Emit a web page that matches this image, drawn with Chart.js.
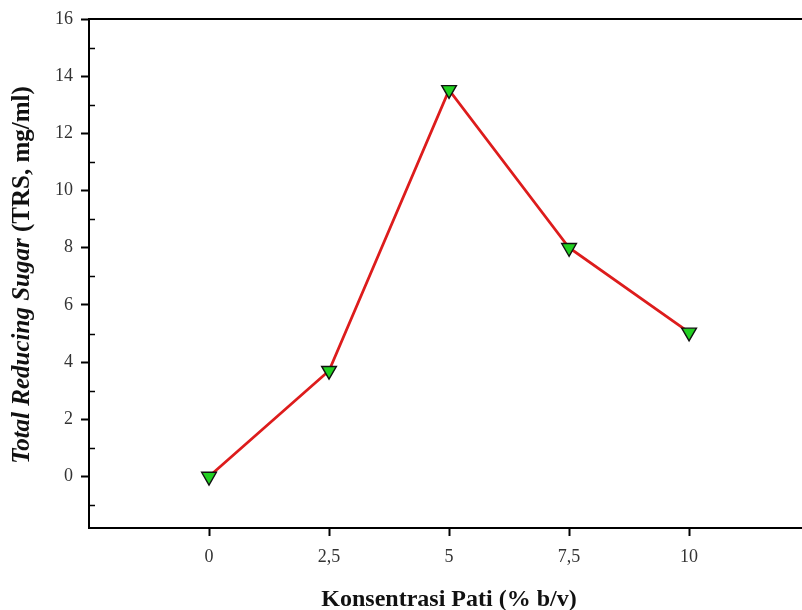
<!DOCTYPE html>
<html>
<head>
<meta charset="utf-8">
<script src="https://cdn.jsdelivr.net/npm/chart.js@4"></script>
<style>
  html, body { margin: 0; padding: 0; background: #fff; overflow: hidden; }
  #wrap { width: 819px; height: 610px; }
</style>
</head>
<body>
<div id="wrap"><canvas id="chart" width="819" height="610"></canvas></div>
<script>
const CONCENTRATION = [0, 2.5, 5, 7.5, 10];
const TRS = [0, 3.7, 13.52, 8.0, 5.04];

const X_TICKS = [0, 2.5, 5, 7.5, 10];
const X_TICK_LABELS = ["0", "2,5", "5", "7,5", "10"];
const Y_TICKS = [0, 2, 4, 6, 8, 10, 12, 14, 16];
const Y_MINOR = [-1, 1, 3, 5, 7, 9, 11, 13, 15];

const X_TITLE = "Konsentrasi Pati (% b/v)";
const Y_TITLE_ITALIC = "Total Reducing Sugar ";
const Y_TITLE_PLAIN = "(TRS, mg/ml)";

const SERIF = "'Liberation Serif', 'Times New Roman', serif";

// top frame line, inner minor ticks and the two axis titles
const decorations = {
  id: "decorations",
  afterDraw(chart) {
    const ctx = chart.ctx;
    const area = chart.chartArea;
    const y = chart.scales.y;
    ctx.save();
    ctx.strokeStyle = "#000";
    ctx.lineWidth = 2;
    ctx.beginPath();
    ctx.moveTo(area.left - 1, area.top);
    ctx.lineTo(area.right, area.top);
    ctx.stroke();

    ctx.lineWidth = 1.5;
    Y_MINOR.forEach((v) => {
      const py = Math.round(y.getPixelForValue(v)) + 0.5;
      ctx.beginPath();
      ctx.moveTo(area.left, py);
      ctx.lineTo(area.left + 6, py);
      ctx.stroke();
    });

    ctx.fillStyle = "#111";
    ctx.font = "bold 24px " + SERIF;
    ctx.textAlign = "center";
    ctx.textBaseline = "alphabetic";
    ctx.fillText(X_TITLE, 449, 606);

    ctx.translate(29, 275);
    ctx.rotate(-Math.PI / 2);
    ctx.textAlign = "left";
    ctx.font = "italic bold 25px " + SERIF;
    const w1 = ctx.measureText(Y_TITLE_ITALIC).width;
    ctx.font = "bold 25px " + SERIF;
    const w2 = ctx.measureText(Y_TITLE_PLAIN).width;
    const start = -(w1 + w2) / 2;
    ctx.font = "italic bold 25px " + SERIF;
    ctx.fillText(Y_TITLE_ITALIC, start, 0);
    ctx.font = "bold 25px " + SERIF;
    ctx.fillText(Y_TITLE_PLAIN, start + w1, 0);
    ctx.restore();
  }
};

new Chart(document.getElementById("chart"), {
  type: "line",
  data: {
    datasets: [{
      data: CONCENTRATION.map((x, i) => ({ x: x, y: TRS[i] })),
      borderColor: "#dd1c1c",
      borderWidth: 2.8,
      pointStyle: "triangle",
      rotation: 180,
      pointRadius: 8.5,
      pointHoverRadius: 8.5,
      pointBackgroundColor: "#22d022",
      pointBorderColor: "#111",
      pointBorderWidth: 1.4,
      tension: 0
    }]
  },
  options: {
    responsive: false,
    animation: false,
    devicePixelRatio: 1,
    layout: { padding: { top: 19, left: 0, right: 0, bottom: 0 } },
    plugins: { legend: { display: false }, tooltip: { enabled: false } },
    scales: {
      x: {
        type: "linear",
        min: -2.5,
        max: 12.5,
        afterFit: (s) => { s.height = 82; },
        afterBuildTicks: (s) => { s.ticks = X_TICKS.map((v) => ({ value: v })); },
        grid: { display: true, drawOnChartArea: false, drawTicks: true, tickLength: 8, tickWidth: 2, color: "#000" },
        border: { display: true, color: "#000", width: 2 },
        ticks: {
          padding: 10,
          color: "#333",
          font: { family: SERIF, size: 18 },
          callback: (v) => X_TICK_LABELS[X_TICKS.indexOf(v)]
        }
      },
      y: {
        min: -1.8,
        max: 16,
        afterFit: (s) => { s.width = 89; },
        afterBuildTicks: (s) => { s.ticks = Y_TICKS.map((v) => ({ value: v })); },
        grid: { display: true, drawOnChartArea: false, drawTicks: true, tickLength: 8, tickWidth: 2, color: "#000" },
        border: { display: true, color: "#000", width: 2 },
        ticks: {
          padding: 8,
          color: "#333",
          font: { family: SERIF, size: 18 },
          callback: (v) => String(v)
        }
      }
    }
  },
  plugins: [decorations]
});
</script>
</body>
</html>
